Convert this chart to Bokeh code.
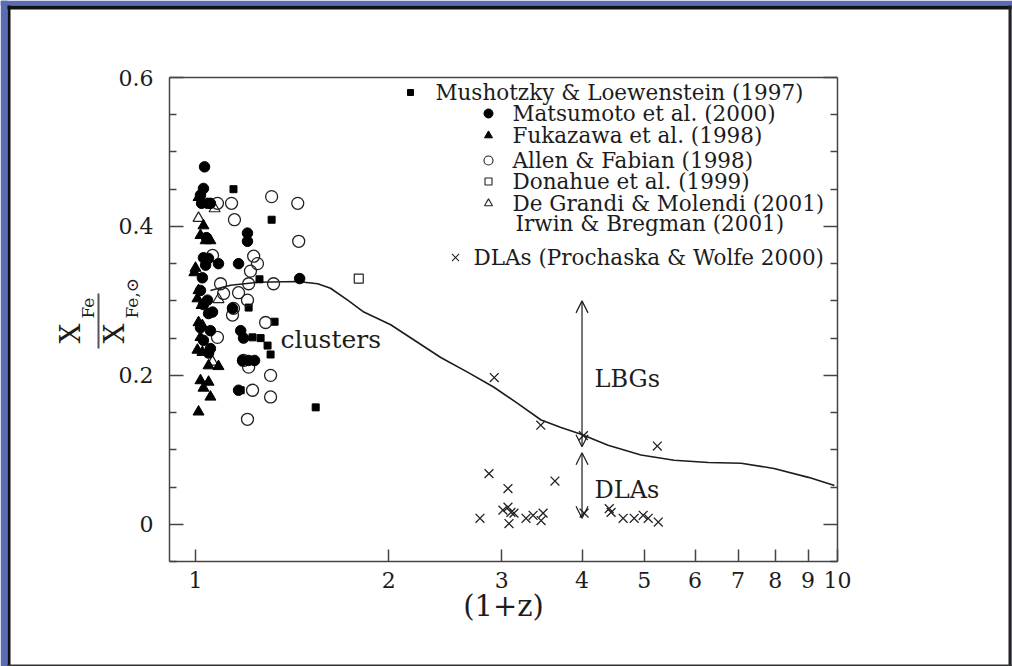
import math
from bokeh.plotting import figure
from bokeh.models import (Range1d, LinearAxis, LogAxis, FixedTicker, Label, Arrow, OpenHead,
                          BoxAnnotation, PrintfTickFormatter)
from bokeh.embed import file_html
from bokeh.resources import INLINE

# ---------------- data ----------------
mush_x = [1.146, 1.314, 1.258, 1.210, 1.328, 1.227, 1.263, 1.295, 1.309, 1.176, 1.539]
mush_y = [0.450, 0.409, 0.329, 0.291, 0.272, 0.251, 0.250, 0.240, 0.228, 0.180, 0.157]

matsu_x = [1.033, 1.029, 1.018, 1.022, 1.055, 1.044, 1.205, 1.205, 1.029, 1.048, 1.037,
           1.086, 1.167, 1.025, 1.453, 1.018, 1.044, 1.048, 1.063, 1.142, 1.018, 1.055,
           1.029, 1.055, 1.048, 1.176, 1.188, 1.184, 1.210, 1.236, 1.167, 1.029, 1.040]
matsu_y = [0.480, 0.451, 0.442, 0.431, 0.431, 0.431, 0.391, 0.380, 0.358, 0.357, 0.348,
           0.350, 0.350, 0.331, 0.330, 0.314, 0.301, 0.283, 0.285, 0.290, 0.264, 0.260,
           0.247, 0.236, 0.230, 0.260, 0.250, 0.220, 0.220, 0.220, 0.180, 0.295, 0.385]

fuka_x = [1.011, 1.029, 1.018, 1.037, 1.055, 1.000, 0.996, 1.011, 1.022, 1.007, 1.011,
          1.025, 1.018, 1.007, 1.025, 1.048, 1.086, 1.018, 1.048, 1.029, 1.055, 1.011]
fuka_y = [0.439, 0.401, 0.388, 0.381, 0.381, 0.344, 0.338, 0.314, 0.294, 0.303, 0.271,
          0.267, 0.251, 0.234, 0.231, 0.213, 0.212, 0.193, 0.191, 0.183, 0.171, 0.151]

allen_x = [1.082, 1.138, 1.150, 1.314, 1.443, 1.448, 1.063, 1.232, 1.249, 1.218, 1.323,
           1.094, 1.210, 1.167, 1.106, 1.205, 1.146, 1.142, 1.286, 1.082, 1.188, 1.210,
           1.309, 1.227, 1.309, 1.205]
allen_y = [0.431, 0.431, 0.409, 0.440, 0.431, 0.380, 0.361, 0.360, 0.350, 0.340, 0.323,
           0.323, 0.323, 0.311, 0.310, 0.301, 0.290, 0.281, 0.271, 0.251, 0.220, 0.211,
           0.200, 0.180, 0.171, 0.141]

donahue_x = [1.796]
donahue_y = [0.330]

degrandi_x = [1.011, 1.071, 1.086, 1.063]
degrandi_y = [0.411, 0.424, 0.302, 0.218]

dla_x = [2.92, 3.45, 4.02, 5.24, 2.865, 3.067, 3.63, 2.774, 3.012, 3.067, 3.10, 3.134,
         3.078, 3.272, 3.356, 3.479, 3.454, 4.03, 4.41, 4.44, 4.636, 4.823, 4.981, 5.072, 5.258]
dla_y = [0.197, 0.133, 0.119, 0.105, 0.068, 0.048, 0.058, 0.008, 0.019, 0.023, 0.016, 0.015,
         0.001, 0.008, 0.012, 0.015, 0.005, 0.015, 0.021, 0.016, 0.008, 0.008, 0.012, 0.008, 0.003]

model_x = [1.055, 1.134, 1.249, 1.442, 1.550, 1.623, 1.726, 1.829, 2.014, 2.410, 2.657,
           2.917, 3.179, 3.454, 3.710, 3.987, 4.392, 4.941, 5.567, 6.292, 7.077, 7.962,
           9.01, 9.89]
model_y = [0.314, 0.321, 0.325, 0.326, 0.323, 0.317, 0.301, 0.285, 0.268, 0.224, 0.204,
           0.184, 0.162, 0.140, 0.130, 0.121, 0.106, 0.093, 0.086, 0.083, 0.082, 0.075,
           0.063, 0.052]

arrow_x = 4.0
lbg_range = [0.104, 0.300]
dla_range = [0.008, 0.096]

x_ticks = [1, 2, 3, 4, 5, 6, 7, 8, 9, 10]
y_ticks = [0, 0.2, 0.4, 0.6]
y_minor = [-0.05, 0.05, 0.1, 0.15, 0.25, 0.3, 0.35, 0.45, 0.5, 0.55]
y_tick_labels = ["0", "0.2", "0.4", "0.6"]

# ---------------- layout ----------------
W, H = 1012, 666
FL, FR, FT, FB = 169, 837, 77, 561          # plot box on the page (px)
XMIN, XMAX, YMIN, YMAX = 0.911, 10.0, -0.05, 0.6
FONT = "DejaVu Serif"
INK = "#1c1c1c"
AX = "#444444"

lx0, lx1 = math.log10(XMIN), math.log10(XMAX)
kx = (lx1 - lx0) / (FR - FL)
ky = (YMAX - YMIN) / (FB - FT)
x_page = Range1d(10 ** (lx0 - FL * kx), 10 ** (lx1 + (W - FR) * kx))
y_page = Range1d(YMIN - (H - FB) * ky, YMAX + FT * ky)

p = figure(width=W, height=H, x_axis_type="log", x_range=x_page, y_range=y_page,
           output_backend="svg", toolbar_location=None, min_border=0)
p.background_fill_color = "white"
p.border_fill_color = "white"
p.outline_line_color = None
p.grid.visible = False

xa = p.xaxis[0]
xa.fixed_location = YMIN
xa.bounds = (XMIN, XMAX)
xa.ticker = FixedTicker(ticks=x_ticks, minor_ticks=[])
xa.formatter = PrintfTickFormatter(format="%d")
xa.major_tick_in = 12
xa.major_tick_out = 0
xa.minor_tick_in = 0
xa.minor_tick_out = 0
xa.major_label_standoff = 10
xa.axis_label = "(1+z)"
xa.axis_label_standoff = -2

ya = p.yaxis[0]
ya.fixed_location = XMIN
ya.bounds = (YMIN, YMAX)
ya.ticker = FixedTicker(ticks=y_ticks, minor_ticks=y_minor)
ya.major_label_overrides = {t: s for t, s in zip(y_ticks, y_tick_labels)}
ya.major_label_standoff = 16

ra = LinearAxis(fixed_location=XMAX, bounds=(YMIN, YMAX),
                ticker=FixedTicker(ticks=y_ticks, minor_ticks=y_minor),
                major_label_overrides={t: "" for t in y_ticks})
p.add_layout(ra, "right")

ta = LogAxis(fixed_location=YMAX, bounds=(XMIN, XMAX),
             ticker=FixedTicker(ticks=[], minor_ticks=[]),
             major_tick_in=0, major_tick_out=0, minor_tick_in=0, minor_tick_out=0)
p.add_layout(ta, "above")

for a in (xa, ya, ra, ta):
    a.axis_line_color = AX
    a.axis_line_width = 1.5
    a.major_tick_line_color = AX
    a.minor_tick_line_color = AX
    a.major_tick_line_width = 1.5
    a.minor_tick_line_width = 1.5
    a.major_label_text_font = FONT
    a.major_label_text_color = INK
    a.axis_label_text_font = FONT
    a.axis_label_text_font_size = "29px"
    a.axis_label_text_font_style = "normal"
    a.axis_label_text_color = INK
for a in (xa, ya):
    a.major_label_text_font_size = "22px"
for a in (ya, ra):
    a.major_tick_in = 14
    a.major_tick_out = 0
    a.minor_tick_in = 7
    a.minor_tick_out = 0

# ---------------- marks ----------------
p.line(model_x, model_y, line_color=INK, line_width=1.6)

p.scatter(mush_x, mush_y, marker="square", size=7, color="black")
p.scatter(allen_x, allen_y, marker="circle", size=12, fill_color=None,
          line_color="#222", line_width=1.3)
p.scatter(degrandi_x, degrandi_y, marker="triangle", size=11, fill_color=None,
          line_color="#222", line_width=1.2)
p.scatter(fuka_x, fuka_y, marker="triangle", size=11, color="black")
p.scatter(matsu_x, matsu_y, marker="circle", size=10.5, color="black")
p.scatter(donahue_x, donahue_y, marker="square", size=9, fill_color=None,
          line_color="#222", line_width=1.2)
p.scatter(dla_x, dla_y, marker="x", size=12.5, line_color="#222", line_width=1.3)

for lo, hi in (lbg_range, dla_range):
    p.add_layout(Arrow(x_start=arrow_x, y_start=lo, x_end=arrow_x, y_end=hi,
                       start=OpenHead(size=12, line_width=1.2, line_color=INK),
                       end=OpenHead(size=12, line_width=1.2, line_color=INK),
                       line_width=1.2, line_color=INK))


def page_to_data(px, py):
    return 10 ** (lx0 + (px - FL) * kx), YMIN + (FB - py) * ky


def label(px, py, text, size, angle=0.0, align="left", baseline="middle"):
    p.add_layout(Label(x=px, y=H - py, x_units="screen", y_units="screen",
                       text=text, text_font=FONT, text_font_size=size,
                       text_color=INK, text_align=align, text_baseline=baseline,
                       angle=angle))


def box(l, r, t, b, color):
    p.add_layout(BoxAnnotation(left=l, right=r, bottom=H - b, top=H - t,
                               left_units="screen", right_units="screen",
                               bottom_units="screen", top_units="screen",
                               fill_color=color, fill_alpha=1.0, line_alpha=0,
                               level="annotation"))


# in-plot text
label(280, 339, "clusters", "25px")
label(594, 378, "LBGs", "24px")
label(594, 489, "DLAs", "24px")

# legend
legend_rows = [
    ("square", dict(size=6, color="black"), 410, 435, 92, "Mushotzky & Loewenstein (1997)"),
    ("circle", dict(size=9, color="black"), 488, 512, 113, "Matsumoto et al. (2000)"),
    ("triangle", dict(size=8, color="black"), 488, 512, 135, "Fukazawa et al. (1998)"),
    ("circle", dict(size=9, fill_color=None, line_color="#222", line_width=1.1), 488, 512, 160, "Allen & Fabian (1998)"),
    ("square", dict(size=7, fill_color=None, line_color="#222", line_width=1.1), 488, 512, 181, "Donahue et al. (1999)"),
    ("triangle", dict(size=8, fill_color=None, line_color="#222", line_width=1.1), 488, 512, 203, "De Grandi & Molendi (2001)"),
    (None, None, None, 515, 223, "Irwin & Bregman (2001)"),
    ("x", dict(size=10, line_color="#222", line_width=1.1), 455, 473, 257, "DLAs (Prochaska & Wolfe 2000)"),
]
for mk, kw, mpx, tpx, py, txt in legend_rows:
    if mk is not None:
        mx, my = page_to_data(mpx, py)
        p.scatter([mx], [my], marker=mk, **kw)
    label(tpx, py, txt, "21.5px")

# y-axis label: X_Fe / X_Fe,sun (rotated)
label(70, 343, "X", "28px", angle=math.pi / 2)
label(87, 318, "Fe", "17px", angle=math.pi / 2)
label(114, 343, "X", "28px", angle=math.pi / 2)
label(131, 318, "Fe,\u2299", "17px", angle=math.pi / 2)
box(97, 99, 293, 348, "#555")

# slide frame: dark border + blue outside strips
BLUE = "#5a6cb6"
box(0, W, 0, 5, BLUE)
box(0, 7, 0, H, BLUE)
box(1011, W, 0, H, BLUE)
box(7, 1011, 5, 9, "#111")
box(7, 10, 5, H, "#111")
box(1008, 1011, 5, H, "#222")
box(7, 1011, 664, H, "#333")

open("out.html", "w").write(file_html(p, INLINE))
